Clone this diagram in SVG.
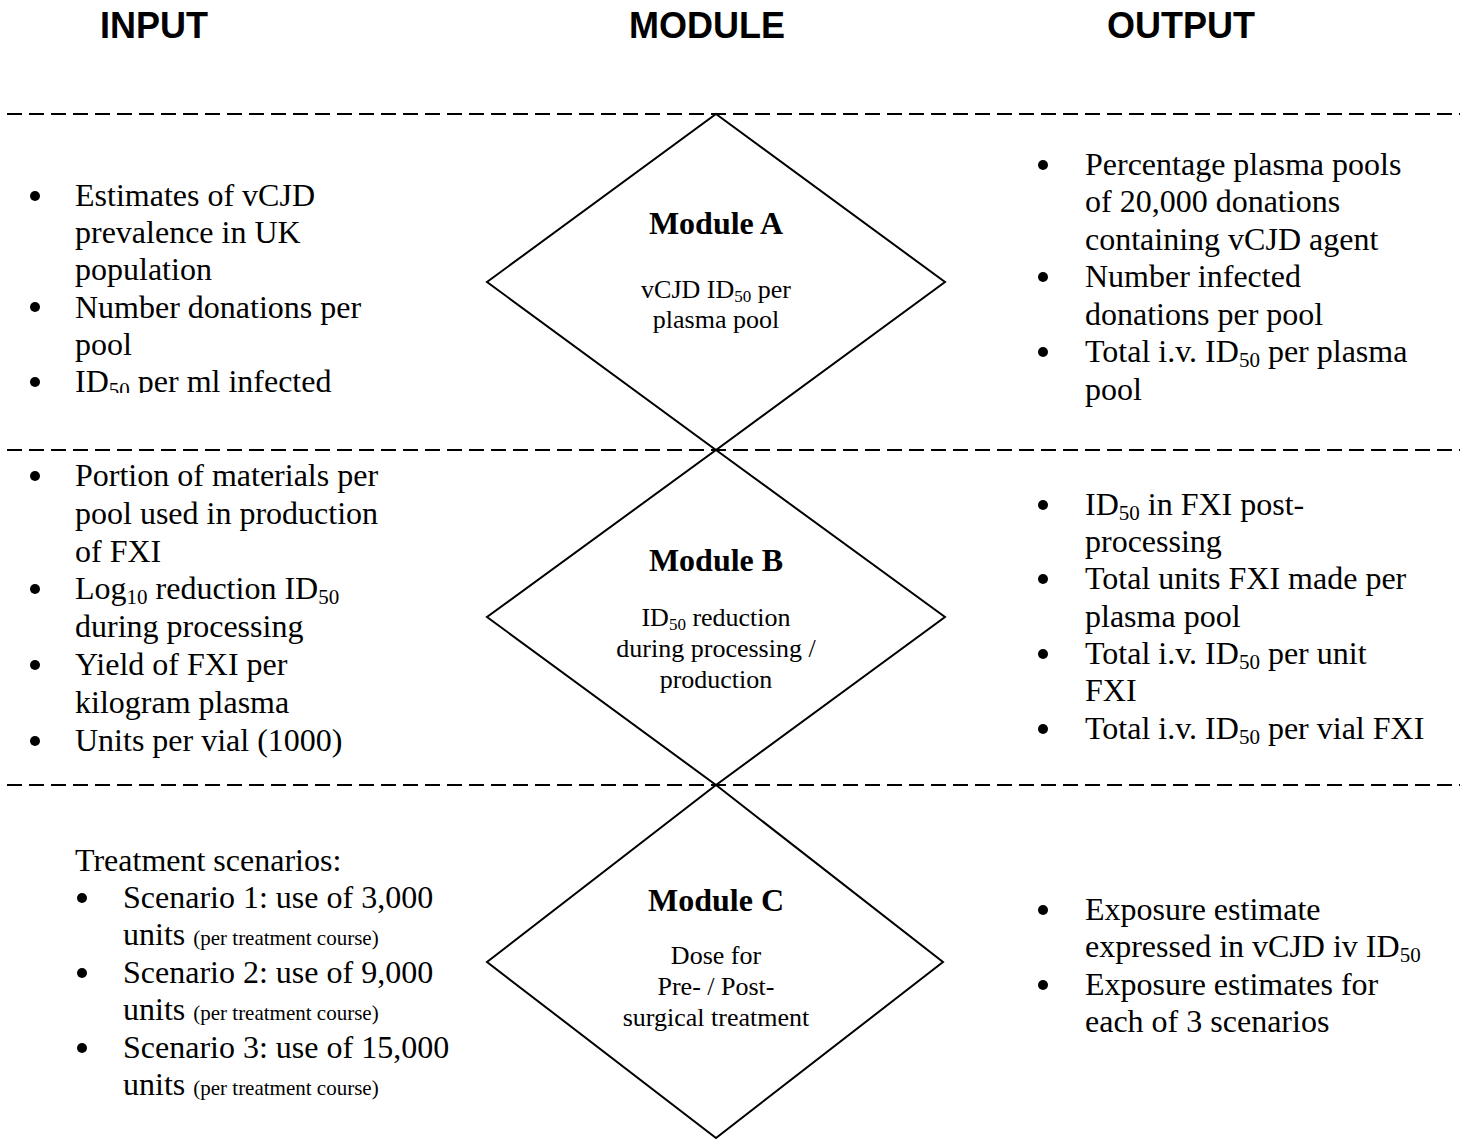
<svg xmlns="http://www.w3.org/2000/svg" width="1484" height="1140" viewBox="0 0 1484 1140">
<style>
.hdr{font-family:"Liberation Sans",Arial,sans-serif;font-weight:bold;font-size:36px;fill:#000;text-anchor:middle}
.t{font-family:"Liberation Serif","Times New Roman",serif;font-size:32px;fill:#000}
.m{font-family:"Liberation Serif","Times New Roman",serif;font-size:26px;fill:#000;text-anchor:middle}
.mt{font-family:"Liberation Serif","Times New Roman",serif;font-size:32px;font-weight:bold;fill:#000;text-anchor:middle}
.sep{stroke:#000;stroke-width:2;stroke-dasharray:15 7;fill:none}
.dia{stroke:#000;stroke-width:2;fill:none}
.b{fill:#000}
</style>
<defs>
<clipPath id="clipA"><rect x="0" y="120" width="480" height="273"/></clipPath>
</defs>
<rect width="1484" height="1140" fill="#fff"/>

<g id="headers">
<text class="hdr" x="154" y="38">INPUT</text>
<text class="hdr" x="707" y="38">MODULE</text>
<text class="hdr" x="1181" y="38">OUTPUT</text>
</g>

<g id="connectors">
<line class="sep" x1="7" y1="114" x2="1460" y2="114"/>
<line class="sep" x1="7" y1="450" x2="1460" y2="450"/>
<line class="sep" x1="7" y1="785" x2="1460" y2="785"/>
</g>

<g id="moduleA">
<polygon class="dia" points="716,114 945,282 716,450 487,282"/>
<text class="mt" x="716" y="234">Module A</text>
<text class="m" x="716" y="298">vCJD ID<tspan font-size="17" dy="4">50</tspan><tspan dy="-4"> per</tspan></text>
<text class="m" x="716" y="328">plasma pool</text>
</g>

<g id="moduleB">
<polygon class="dia" points="716,450 945,617 716,785 487,617"/>
<text class="mt" x="716" y="571">Module B</text>
<text class="m" x="716" y="626">ID<tspan font-size="17" dy="4">50</tspan><tspan dy="-4"> reduction</tspan></text>
<text class="m" x="716" y="657">during processing /</text>
<text class="m" x="716" y="688">production</text>
</g>

<g id="moduleC">
<polygon class="dia" points="716,785 943,962 716,1138 487,962"/>
<text class="mt" x="716" y="911">Module C</text>
<text class="m" x="716" y="964">Dose for</text>
<text class="m" x="716" y="995">Pre- / Post-</text>
<text class="m" x="716" y="1026">surgical treatment</text>
</g>

<g id="inputA" clip-path="url(#clipA)">
<circle class="b" cx="35" cy="196" r="5"/>
<circle class="b" cx="35" cy="307" r="5"/>
<circle class="b" cx="35" cy="382" r="5"/>
<text class="t" x="75" y="206">Estimates of vCJD</text>
<text class="t" x="75" y="243">prevalence in UK</text>
<text class="t" x="75" y="280">population</text>
<text class="t" x="75" y="318">Number donations per</text>
<text class="t" x="75" y="355">pool</text>
<text class="t" x="75" y="392">ID<tspan font-size="21" dy="5">50</tspan><tspan dy="-5"> per ml infected</tspan></text>
</g>

<g id="outputA">
<circle class="b" cx="1043" cy="165" r="5"/>
<circle class="b" cx="1043" cy="277" r="5"/>
<circle class="b" cx="1043" cy="352" r="5"/>
<text class="t" x="1085" y="175">Percentage plasma pools</text>
<text class="t" x="1085" y="212">of 20,000 donations</text>
<text class="t" x="1085" y="250">containing vCJD agent</text>
<text class="t" x="1085" y="287">Number infected</text>
<text class="t" x="1085" y="325">donations per pool</text>
<text class="t" x="1085" y="362">Total i.v. ID<tspan font-size="21" dy="5">50</tspan><tspan dy="-5"> per plasma</tspan></text>
<text class="t" x="1085" y="400">pool</text>
</g>

<g id="inputB">
<circle class="b" cx="35" cy="476" r="5"/>
<circle class="b" cx="35" cy="589" r="5"/>
<circle class="b" cx="35" cy="665" r="5"/>
<circle class="b" cx="35" cy="741" r="5"/>
<text class="t" x="75" y="486">Portion of materials per</text>
<text class="t" x="75" y="524">pool used in production</text>
<text class="t" x="75" y="562">of FXI</text>
<text class="t" x="75" y="599">Log<tspan font-size="21" dy="5">10</tspan><tspan dy="-5"> reduction ID</tspan><tspan font-size="21" dy="5">50</tspan></text>
<text class="t" x="75" y="637">during processing</text>
<text class="t" x="75" y="675">Yield of FXI per</text>
<text class="t" x="75" y="713">kilogram plasma</text>
<text class="t" x="75" y="751">Units per vial (1000)</text>
</g>

<g id="outputB">
<circle class="b" cx="1043" cy="505" r="5"/>
<circle class="b" cx="1043" cy="579" r="5"/>
<circle class="b" cx="1043" cy="654" r="5"/>
<circle class="b" cx="1043" cy="729" r="5"/>
<text class="t" x="1085" y="515">ID<tspan font-size="21" dy="5">50</tspan><tspan dy="-5"> in FXI post-</tspan></text>
<text class="t" x="1085" y="552">processing</text>
<text class="t" x="1085" y="589">Total units FXI made per</text>
<text class="t" x="1085" y="627">plasma pool</text>
<text class="t" x="1085" y="664">Total i.v. ID<tspan font-size="21" dy="5">50</tspan><tspan dy="-5"> per unit</tspan></text>
<text class="t" x="1085" y="701">FXI</text>
<text class="t" x="1085" y="739">Total i.v. ID<tspan font-size="21" dy="5">50</tspan><tspan dy="-5"> per vial FXI</tspan></text>
</g>

<g id="inputC">
<text class="t" x="75" y="871">Treatment scenarios:</text>
<circle class="b" cx="82" cy="898" r="5"/>
<circle class="b" cx="82" cy="973" r="5"/>
<circle class="b" cx="82" cy="1048" r="5"/>
<text class="t" x="123" y="908">Scenario 1: use of 3,000</text>
<text class="t" x="123" y="945">units <tspan font-size="21">(per treatment course)</tspan></text>
<text class="t" x="123" y="983">Scenario 2: use of 9,000</text>
<text class="t" x="123" y="1020">units <tspan font-size="21">(per treatment course)</tspan></text>
<text class="t" x="123" y="1058">Scenario 3: use of 15,000</text>
<text class="t" x="123" y="1095">units <tspan font-size="21">(per treatment course)</tspan></text>
</g>

<g id="outputC">
<circle class="b" cx="1043" cy="910" r="5"/>
<circle class="b" cx="1043" cy="985" r="5"/>
<text class="t" x="1085" y="920">Exposure estimate</text>
<text class="t" x="1085" y="957">expressed in vCJD iv ID<tspan font-size="21" dy="5">50</tspan></text>
<text class="t" x="1085" y="995">Exposure estimates for</text>
<text class="t" x="1085" y="1032">each of 3 scenarios</text>
</g>
</svg>
